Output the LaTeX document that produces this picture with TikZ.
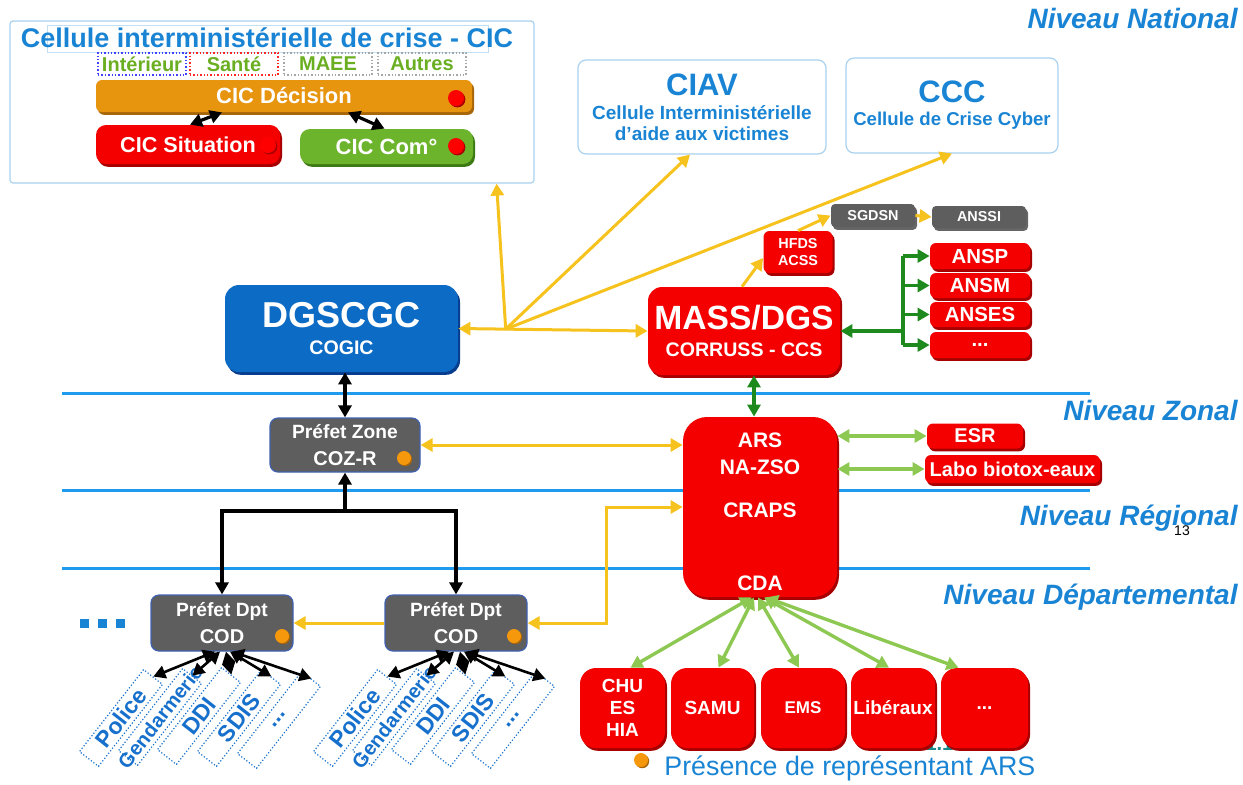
\documentclass[tikz,border=0pt]{standalone}
\usepackage{fontspec}
\setmainfont{Liberation Sans}
\usepackage{xcolor}
\usepackage{tikz}
\usetikzlibrary{arrows.meta, calc, shadows}

\definecolor{cicblue}{HTML}{1A84D4}
\definecolor{lvlblue}{HTML}{1E9BEF}
\definecolor{frameblue}{HTML}{A9D1EE}
\definecolor{boxred}{HTML}{F40000}
\definecolor{shadowred}{HTML}{A80000}
\definecolor{dgblue}{HTML}{0C6BC4}
\definecolor{dgshadow}{HTML}{083C8C}
\definecolor{boxgrey}{HTML}{5E5E5E}
\definecolor{greyedge}{HTML}{4062B0}
\definecolor{decorange}{HTML}{E7940F}
\definecolor{orangeshadow}{HTML}{A8660A}
\definecolor{comgreen}{HTML}{6CB42C}
\definecolor{greenshadow}{HTML}{3E7A14}
\definecolor{txtgreen}{HTML}{6AAE22}
\definecolor{yellowline}{HTML}{F6C21D}
\definecolor{darkgreen}{HTML}{1E8A1E}
\definecolor{lightgreen}{HTML}{8DC852}
\definecolor{dotorange}{HTML}{F6980C}
\definecolor{svcblue}{HTML}{1670CC}
\definecolor{pageteal}{HTML}{1B8A8A}

\newcommand{\fsz}[1]{\fontsize{#1}{#1}\selectfont}

\tikzset{
  plate/.style 2 args={fill=#1, text=white, font=\bfseries, rounded corners=3pt,
    drop shadow={shadow xshift=1pt, shadow yshift=-1.4pt, fill=#2, opacity=1}},
  redbox/.style={plate={boxred}{shadowred}},
  greybox/.style={fill=boxgrey, draw=greyedge, line width=0.6pt, text=white, font=\bfseries, rounded corners=4pt},
  panel/.style={draw=frameblue, line width=0.6pt, rounded corners=4pt, text=cicblue, font=\bfseries},
  member/.style={densely dotted, line width=0.7pt, text=txtgreen, font=\fsz{10}\bfseries, minimum width=44pt, minimum height=11pt},
  svc/.style={draw=svcblue, densely dotted, line width=0.6pt, rotate=52, minimum width=52pt, minimum height=12pt, text=svcblue, font=\fsz{11.5}\bfseries},
  reddot/.style={circle, fill=red, minimum size=8pt, drop shadow={shadow xshift=0.7pt, shadow yshift=-0.7pt, fill=shadowred, opacity=1}},
  orangedot/.style={circle, fill=dotorange, minimum size=7pt, drop shadow={shadow xshift=0.6pt, shadow yshift=-0.6pt, fill=orangeshadow, opacity=1}},
  levelline/.style={lvlblue, line width=1.5pt},
  levellabel/.style={anchor=east, text=cicblue, font=\fsz{14}\bfseries\itshape},
  yline/.style={yellowline, line width=1.5pt},
  blkline/.style={black, line width=1.6pt},
  dgline/.style={darkgreen, line width=1.7pt},
  lgline/.style={lightgreen, line width=1.7pt},
}

\begin{document}
\begin{tikzpicture}[x=0.5pt, y=-0.5pt, >={Triangle[length=6pt, width=6.5pt]}, every node/.append style={inner sep=0pt}]
		\useasboundingbox (0,0) rectangle (1243,784);

		%level lines and labels
		\draw[levelline] (62,393) -- (1090,393);
		\draw[levelline] (62,490) -- (1090,490);
		\draw[levelline] (62,568) -- (1090,568);
		\node[levellabel] (national) at (1238,18) {Niveau National};
		\node[levellabel] (zonal) at (1238,410) {Niveau Zonal};
		\node[levellabel] (regional) at (1238,518) {Niveau Régional};
		\node[levellabel] (departemental) at (1238,597) {Niveau Départemental};
		\node[font=\fsz{7}] (slidenum) at (1182,531) {13};

		%CIC
		\node[panel, rounded corners=1.5pt, minimum width=262pt, minimum height=81pt] (cic) at (272,102) {};
		\node[draw=frameblue!70, line width=0.4pt, minimum width=220.5pt, minimum height=13.5pt] (cictitlebox) at (267.5,38.5) {};
		\node[text=cicblue, font=\fsz{13.5}\bfseries] (cictitle) at (267,38) {Cellule interministérielle de crise - CIC};
		\node[member, draw=blue!75] (interieur) at (142,64) {Intérieur};
		\node[member, draw=red!85] (sante) at (234,64) {Santé};
		\node[member, draw=gray!70] (maee) at (328,64) {MAEE};
		\node[member, draw=gray!70] (autres) at (422,64) {Autres};
		\node[plate={decorange}{orangeshadow}, font=\fsz{11}\bfseries, minimum width=188pt, minimum height=16pt] (decision) at (284,96) {CIC Décision};
		\node[redbox, rounded corners=5pt, font=\fsz{10.8}\bfseries, minimum width=92pt, minimum height=19.5pt] (situation) at (188,144.5) {CIC Situation};
		\node[plate={comgreen}{greenshadow}, rounded corners=5pt, font=\fsz{11}\bfseries, minimum width=86.5pt, minimum height=17.5pt] (com) at (386.5,146.5) {CIC Com°};
		\node[reddot] (decisiondot) at (456,98) {};
		\node[reddot] (situationdot) at (268,145) {};
		\node[reddot] (comdot) at (456,146) {};
		\draw[blkline, <->] ([xshift=-31pt]decision.south) -- ([xshift=1pt]situation.north);
		\draw[blkline, <->] ([xshift=32pt]decision.south) -- ([xshift=-1pt]com.north);

		%CIAV and CCC
		\node[panel, align=center, font=\fsz{9.5}\bfseries, minimum width=124pt, minimum height=47pt] (ciav) at (702,107) {{\fsz{15.5}CIAV}\\[2.5pt]Cellule Interministérielle\\[1pt]d’aide aux victimes};
		\node[panel, align=center, font=\fsz{9.3}\bfseries, minimum width=106pt, minimum height=47.5pt] (ccc) at (952,105.5) {{\fsz{15.5}CCC}\\[2.2pt]Cellule de Crise Cyber};

		%national level
		\node[plate={dgblue}{dgshadow}, rounded corners=7pt, align=center, font=\fsz{18}\bfseries, minimum width=116.5pt, minimum height=43.5pt] (dgscgc) at (341.5,328.5) {DGSCGC\\[-4.5pt]{\fsz{9.8}COGIC}};
		\node[redbox, rounded corners=7pt, align=center, font=\fsz{16.8}\bfseries, minimum width=96pt, minimum height=44pt] (mass) at (744,331) {MASS/DGS\\[-3.3pt]{\fsz{9.8}CORRUSS - CCS}};
		\node[redbox, align=center, font=\fsz{7.2}\bfseries, minimum width=34.5pt, minimum height=21pt] (hfds) at (798,252) {HFDS\\[1.5pt]ACSS};
		\node[plate={boxgrey}{black!60}, rounded corners=2pt, font=\fsz{7.2}\bfseries, minimum width=42pt, minimum height=11.5pt] (sgdsn) at (873,215.5) {SGDSN};
		\node[plate={boxgrey}{black!60}, rounded corners=2pt, font=\fsz{7.2}\bfseries, minimum width=47pt, minimum height=11pt] (anssi) at (979,217) {ANSSI};
		\node[redbox, font=\fsz{10.2}\bfseries, minimum width=50pt, minimum height=13pt] (ansp) at (980,256) {ANSP};
		\node[redbox, font=\fsz{10.2}\bfseries, minimum width=50pt, minimum height=12.5pt] (ansm) at (980,285.5) {ANSM};
		\node[redbox, font=\fsz{10.2}\bfseries, minimum width=50pt, minimum height=12.5pt] (anses) at (980,314.5) {ANSES};
		\node[redbox, font=\fsz{10.2}\bfseries, minimum width=50pt, minimum height=13pt] (moreagency) at (980,345) {...};

		\coordinate (hub) at ($(dgscgc.east)!0.25!(mass.west)$);
		\coordinate (bus) at (903,331);
		\draw[yline, <->] (dgscgc.east) -- (mass.west);
		\draw[yline, ->] (hub) -- ([xshift=-19pt]cic.south east);
		\draw[yline, ->] (hub) -- ([xshift=-6pt]ciav.south);
		\draw[yline, ->] (hub) -- (ccc.south);
		\draw[yline, ->] ([xshift=-1pt]mass.north) -- ([yshift=-3pt]hfds.west);
		\draw[yline, ->] (hfds.north) -- (sgdsn.west);
		\draw[yline, ->] (sgdsn.east) -- (anssi.west);
		\draw[dgline, ->] (bus) -- (mass.east);
		\draw[dgline] (ansp.west -| bus) -- (moreagency.west -| bus);
		\draw[dgline, ->] (ansp.west -| bus) -- (ansp.west);
		\draw[dgline, ->] (ansm.west -| bus) -- (ansm.west);
		\draw[dgline, ->] (anses.west -| bus) -- (anses.west);
		\draw[dgline, ->] (moreagency.west -| bus) -- (moreagency.west);

		%zonal and regional level
		\node[greybox, align=center, font=\fsz{9.6}\bfseries, minimum width=75pt, minimum height=27pt] (pzone) at (345,445) {Préfet Zone\\[4pt]{\fsz{10}COZ-R}};
		\node[orangedot] (pzonedot) at (404,458) {};
		\node[redbox, rounded corners=12pt, align=center, font=\fsz{10.5}\bfseries, minimum width=77pt, minimum height=90pt] (ars) at (760,507) {\rule{0pt}{12pt}ARS\\[3pt]NA-ZSO\\[11pt]CRAPS\\[26pt]CDA};
		\node[redbox, font=\fsz{10}\bfseries, minimum width=48pt, minimum height=12.5pt] (esr) at (975,436) {ESR};
		\node[redbox, font=\fsz{10}\bfseries, minimum width=87.5pt, minimum height=14pt] (labo) at (1012.5,469) {Labo biotox-eaux};
		\draw[blkline, <->] (dgscgc.south -| pzone.north) -- (pzone.north);
		\draw[dgline, <->] ([xshift=-3pt]ars.north) -- ([xshift=-3pt]ars.north |- mass.south);
		\draw[yline, <->] (pzone.east) -- (pzone.east -| ars.west);
		\draw[lgline, <->] (ars.east |- esr) -- (esr.west);
		\draw[lgline, <->] (ars.east |- labo) -- (labo.west);

		%departmental level
		\node[greybox, align=center, font=\fsz{9.6}\bfseries, minimum width=71pt, minimum height=28pt] (dptA) at (222,623) {Préfet Dpt\\[3.6pt]{\fsz{10}COD}};
		\node[orangedot] (dptAdot) at (282,636) {};
		\node[greybox, align=center, font=\fsz{9.6}\bfseries, minimum width=71pt, minimum height=28pt] (dptB) at (456,623) {Préfet Dpt\\[3.6pt]{\fsz{10}COD}};
		\node[orangedot] (dptBdot) at (514,636) {};
		\node[text=cicblue] (moredpt) at (102.5,623) {\rule{4.5pt}{4.5pt}\hspace{4.5pt}\rule{4.5pt}{4.5pt}\hspace{4.5pt}\rule{4.5pt}{4.5pt}};

		\coordinate (treej) at (345,511);
		\coordinate (elbow) at (606,507);
		\draw[blkline, ->] (treej) -- (pzone.south);
		\draw[blkline, ->] (treej) -| (dptA.north);
		\draw[blkline, ->] (treej) -| (dptB.north);
		\draw[yline, ->] (dptB.west) -- (dptA.east);
		\draw[yline, <->] (dptB.east) -- (dptB.east -| elbow) -- (elbow) -- (elbow -| ars.west);

		%services of each prefect
		\node[svc] (policeA) at (121,718) {Police};
		\node[svc] (gendA) at (160,717) {{\fsz{10}\makebox[40pt]{Gendarmerie}}};
		\node[svc] (ddiA) at (199,716) {DDI};
		\node[svc] (sdisA) at (239,718) {SDIS};
		\node[svc] (otherA) at (279,720) {...};
		\node[svc] (policeB) at (355,718) {Police};
		\node[svc] (gendB) at (394,717) {{\fsz{10}\makebox[40pt]{Gendarmerie}}};
		\node[svc] (ddiB) at (433,716) {DDI};
		\node[svc] (sdisB) at (473,718) {SDIS};
		\node[svc] (otherB) at (513,720) {...};
		\draw[blkline, line width=1.3pt, <->] ([xshift=-3.5pt]dptA.south) -- (policeA.east);
		\draw[blkline, line width=1.3pt, <->] ([xshift=-1pt]dptA.south) -- (gendA.east);
		\draw[blkline, line width=1.3pt, <->] ([xshift=2pt]dptA.south) -- (ddiA.east);
		\draw[blkline, line width=1.3pt, <->] ([xshift=4pt]dptA.south) -- (sdisA.east);
		\draw[blkline, line width=1.3pt, <->] ([xshift=5pt]dptA.south) -- (otherA.east);
		\draw[blkline, line width=1.3pt, <->] ([xshift=-3.5pt]dptB.south) -- (policeB.east);
		\draw[blkline, line width=1.3pt, <->] ([xshift=-1pt]dptB.south) -- (gendB.east);
		\draw[blkline, line width=1.3pt, <->] ([xshift=2pt]dptB.south) -- (ddiB.east);
		\draw[blkline, line width=1.3pt, <->] ([xshift=4pt]dptB.south) -- (sdisB.east);
		\draw[blkline, line width=1.3pt, <->] ([xshift=5pt]dptB.south) -- (otherB.east);

		%health actors under CDA
		\node[text=pageteal, font=\fsz{10}\bfseries] (pagenum) at (945,744) {1.13};
		\node[redbox, rounded corners=8pt, align=center, font=\fsz{9.5}\bfseries, minimum width=42.5pt, minimum height=40pt] (chu) at (622.5,708) {CHU\\[1.5pt]ES\\[1.5pt]HIA};
		\node[redbox, rounded corners=8pt, font=\fsz{9.5}\bfseries, minimum width=41.5pt, minimum height=40pt] (samu) at (712.5,708) {SAMU};
		\node[redbox, rounded corners=8pt, font=\fsz{8.5}\bfseries, minimum width=42pt, minimum height=40pt] (ems) at (803,708) {EMS};
		\node[redbox, rounded corners=8pt, font=\fsz{9.5}\bfseries, minimum width=42pt, minimum height=40pt] (liberaux) at (893,708) {Libéraux};
		\node[redbox, rounded corners=8pt, font=\fsz{9.5}\bfseries, minimum width=43.5pt, minimum height=40pt] (morecda) at (984.5,708) {...};
		\draw[lgline, <->] ([xshift=-4pt]ars.south) -- ([xshift=4pt]chu.north);
		\draw[lgline, <->] ([xshift=-3pt]ars.south) -- ([xshift=3pt]samu.north);
		\draw[lgline, <->] ([xshift=-1pt]ars.south) -- ([xshift=-2pt]ems.north);
		\draw[lgline, <->] ([xshift=2pt]ars.south) -- ([xshift=-2pt]liberaux.north);
		\draw[lgline, <->] ([xshift=3pt]ars.south) -- ([xshift=-13pt]morecda.north);

		%legend
		\node[orangedot] (legdot) at (641,760) {};
		\node[anchor=west, text=cicblue, font=\fsz{13.4}] (legend) at (664,768) {Présence de représentant ARS};

	\end{tikzpicture}
\end{document}
